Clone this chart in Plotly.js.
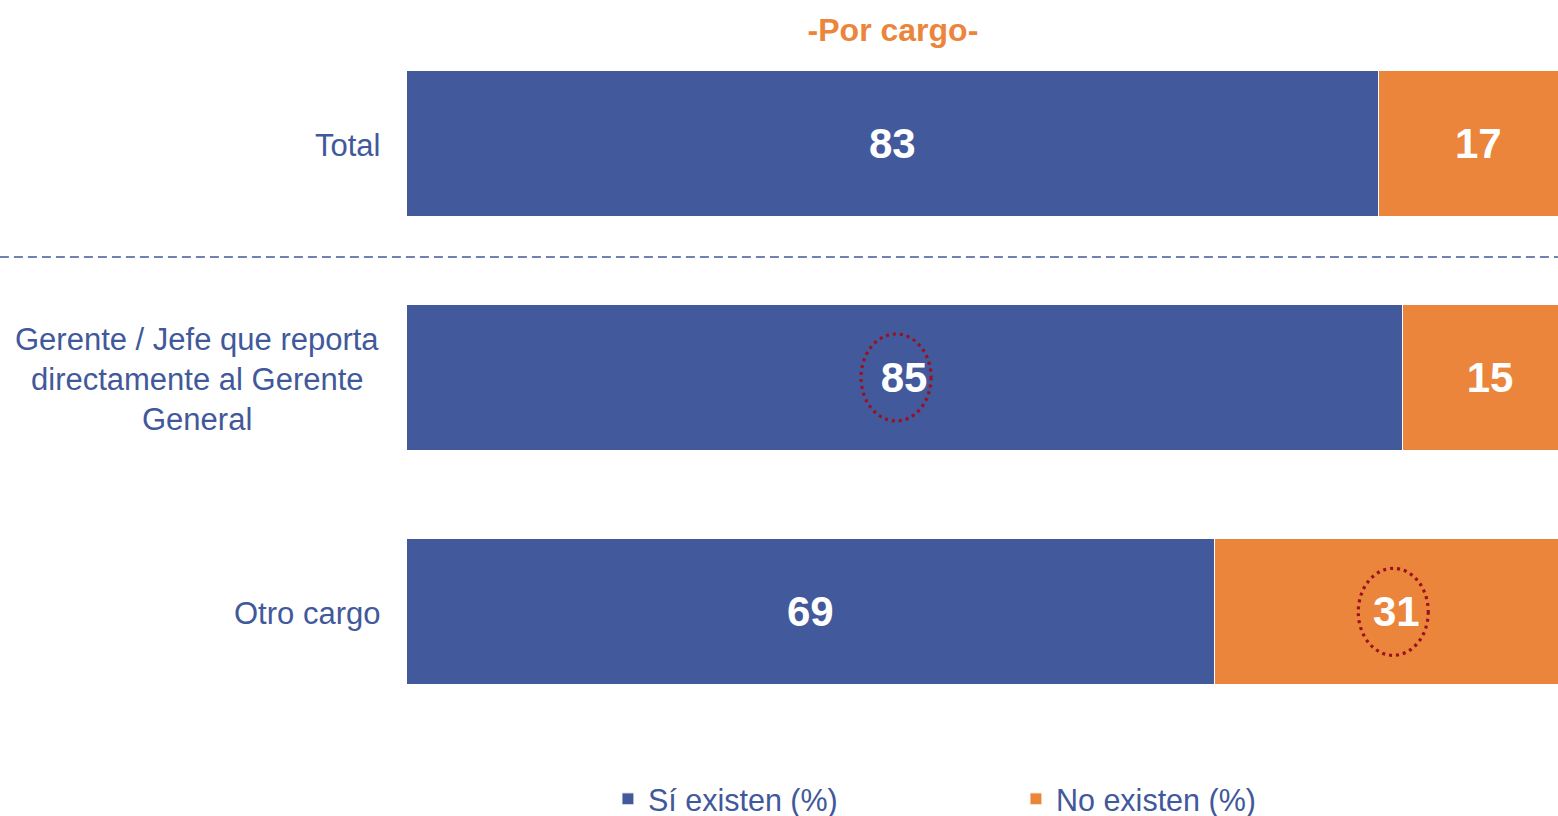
<!DOCTYPE html>
<html>
<head>
<meta charset="utf-8">
<script src="https://cdn.plot.ly/plotly-3.0.1.min.js"></script>
<style>
  html, body { margin: 0; padding: 0; background: #ffffff; }
  #chart { width: 1558px; height: 816px; }
</style>
</head>
<body>
<div id="chart"></div>
<script>
// ---- Data ----
var categories = ["Total", "Gerente / Jefe que reporta<br>directamente al Gerente<br>General", "Otro cargo"];
var siExisten = [83, 85, 69];
var noExisten = [17, 15, 31];
var seriesNames = ["Sí existen (%)", "No existen (%)"];
var chartTitle = "-Por cargo-";
// highlighted cells: [series index, category index]
var highlights = [[0, 1], [1, 2]];

// ---- Style ----
var BLUE = "#425a9b";
var ORANGE = "#eb853b";
var TEXTBLUE = "#41599a";
var DARKRED = "#9b1020";
var FONT = "Liberation Sans, Arial, sans-serif";

var yIdx = categories.map(function (c, i) { return i; });

var traces = [
  {
    type: "bar", orientation: "h", name: seriesNames[0],
    x: siExisten, y: yIdx,
    marker: { color: BLUE, line: { color: "#ffffff", width: 1 } },
    text: siExisten.map(String), textposition: "inside", insidetextanchor: "middle",
    textangle: 0,
    textfont: { family: FONT, size: 42, color: "#ffffff", weight: "bold" },
    hoverinfo: "skip"
  },
  {
    type: "bar", orientation: "h", name: seriesNames[1],
    x: noExisten, y: yIdx,
    marker: { color: ORANGE, line: { color: "#ffffff", width: 1 } },
    text: noExisten.map(String), textposition: "inside", insidetextanchor: "middle",
    textangle: 0,
    textfont: { family: FONT, size: 42, color: "#ffffff", weight: "bold" },
    hoverinfo: "skip"
  }
];

// category labels as annotations (centered multi-line, 40px line pitch)
var annotations = [];
categories.forEach(function (c, i) {
  var lines = c.split("<br>");
  var n = lines.length;
  lines.forEach(function (ln, k) {
    var single = n === 1;
    annotations.push({
      xref: "paper", yref: "y", x: 0, y: i,
      xanchor: single ? "right" : "center", yanchor: "middle",
      xshift: single ? -24 : -209,
      yshift: ((n - 1) / 2 - k) * 40 - 2,
      text: ln, showarrow: false,
      font: { family: FONT, size: 31, color: TEXTBLUE }
    });
  });
});

var series = [siExisten, noExisten];
var shapes = [
  {
    type: "line", xref: "paper", yref: "y",
    x0: -0.3525, x1: 1, y0: 0.486, y1: 0.486,
    line: { color: TEXTBLUE, width: 1.5, dash: "9px,5px" }
  }
];
highlights.forEach(function (h) {
  var s = h[0], ci = h[1];
  var start = s === 0 ? 0 : siExisten[ci];
  var mid = start + series[s][ci] / 2;
  shapes.push({
    type: "circle", xref: "x", yref: "y",
    xsizemode: "pixel", ysizemode: "pixel",
    xanchor: mid, yanchor: ci,
    x0: s === 0 ? -43 : -38, x1: s === 0 ? 27 : 32,
    y0: -43.5, y1: 43.5,
    line: { color: DARKRED, width: 3.2, dash: "3px,4px" }
  });
});

var layout = {
  width: 1558, height: 816,
  paper_bgcolor: "#ffffff", plot_bgcolor: "#ffffff",
  margin: { l: 406, r: 0, t: 26, b: 87, pad: 0, autoexpand: false },
  barmode: "stack", bargap: 0.377,
  font: { family: FONT, color: TEXTBLUE },
  title: {
    text: "<b>" + chartTitle + "</b>",
    xref: "paper", x: 0.4227, xanchor: "center",
    yref: "container", y: 0.963, yanchor: "middle",
    font: { family: FONT, size: 32, color: ORANGE }
  },
  xaxis: {
    range: [0, 98.3], showgrid: false, zeroline: false,
    showticklabels: false, showline: false, fixedrange: true
  },
  yaxis: {
    range: [2.5, -0.5], showgrid: false, zeroline: false,
    showticklabels: false, showline: false, fixedrange: true,
    tickvals: yIdx
  },
  showlegend: true,
  legend: {
    orientation: "h", x: 0.1753, xanchor: "left",
    yref: "container", y: 0.0208, yanchor: "middle",
    entrywidth: 363, traceorder: "normal",
    font: { family: FONT, size: 30.5, color: TEXTBLUE },
    bgcolor: "rgba(0,0,0,0)"
  },
  annotations: annotations,
  shapes: shapes
};

Plotly.newPlot("chart", traces, layout, { displayModeBar: false, staticPlot: true });
</script>
</body>
</html>
